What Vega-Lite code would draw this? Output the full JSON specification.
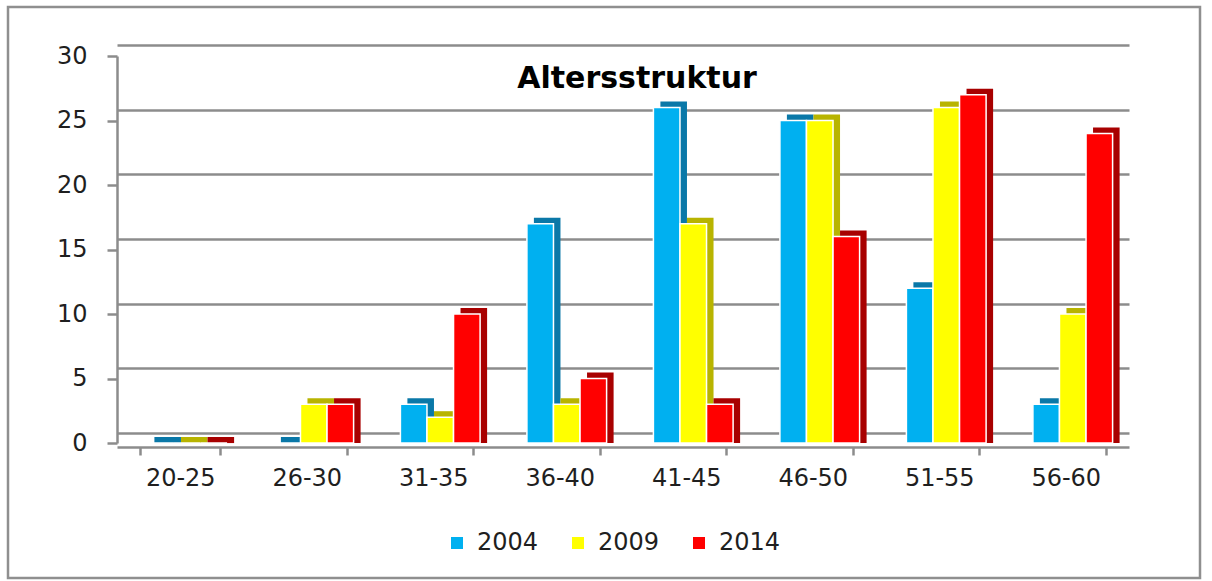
{
  "$schema": "https://vega.github.io/schema/vega-lite/v6.json",
  "width": 1192,
  "height": 571,
  "autosize": {"type": "none"},
  "padding": {"left": 8, "top": 7, "right": 12, "bottom": 3},
  "background": "white",
  "config": {
    "view": {"stroke": "#8f8f8f", "strokeWidth": 2.5},
    "font": "DejaVu Sans"
  },
  "title": {
    "text": "Altersstruktur",
    "font": "DejaVu Sans",
    "fontSize": 30,
    "fontWeight": "bold",
    "color": "#000000",
    "anchor": "middle",
    "orient": "bottom",
    "frame": "group",
    "baseline": "alphabetic",
    "offset": -490,
    "dx": 33
  },
  "data": {
    "values": [
      {"age": "20-25", "year": "2004", "value": 0},
      {"age": "20-25", "year": "2009", "value": 0},
      {"age": "20-25", "year": "2014", "value": 0},
      {"age": "26-30", "year": "2004", "value": 0},
      {"age": "26-30", "year": "2009", "value": 3},
      {"age": "26-30", "year": "2014", "value": 3},
      {"age": "31-35", "year": "2004", "value": 3},
      {"age": "31-35", "year": "2009", "value": 2},
      {"age": "31-35", "year": "2014", "value": 10},
      {"age": "36-40", "year": "2004", "value": 17},
      {"age": "36-40", "year": "2009", "value": 3},
      {"age": "36-40", "year": "2014", "value": 5},
      {"age": "41-45", "year": "2004", "value": 26},
      {"age": "41-45", "year": "2009", "value": 17},
      {"age": "41-45", "year": "2014", "value": 3},
      {"age": "46-50", "year": "2004", "value": 25},
      {"age": "46-50", "year": "2009", "value": 25},
      {"age": "46-50", "year": "2014", "value": 16},
      {"age": "51-55", "year": "2004", "value": 12},
      {"age": "51-55", "year": "2009", "value": 26},
      {"age": "51-55", "year": "2014", "value": 27},
      {"age": "56-60", "year": "2004", "value": 3},
      {"age": "56-60", "year": "2009", "value": 10},
      {"age": "56-60", "year": "2014", "value": 24}
    ]
  },
  "layer": [
    {
      "mark": {"type": "bar", "opacity": 0},
      "encoding": {
        "x": {
          "field": "age",
          "type": "nominal",
          "sort": null,
          "scale": {"range": [109, 1121], "paddingInner": 0.37, "paddingOuter": 0.185},
          "axis": {
            "orient": "bottom",
            "offset": -131,
            "title": null,
            "labelAngle": 0,
            "labelFont": "DejaVu Sans",
            "labelFontSize": 24,
            "labelColor": "#1f1f1f",
            "labelPadding": 11,
            "domainColor": "#8c8c8c",
            "domainWidth": 2.5,
            "tickColor": "#8c8c8c",
            "tickWidth": 2.5,
            "tickSize": 8,
            "tickBand": "extent",
            "grid": false
          }
        },
        "y": {
          "field": "value",
          "type": "quantitative",
          "scale": {"domain": [0, 30], "range": [426, 38], "nice": false},
          "axis": {
            "orient": "left",
            "offset": -109,
            "title": null,
            "grid": true,
            "gridColor": "#8c8c8c",
            "gridWidth": 2.5,
            "domain": false,
            "ticks": false,
            "labels": false,
            "values": [0, 5, 10, 15, 20, 25, 30]
          }
        }
      }
    },
    {
      "mark": {"type": "bar"},
      "encoding": {
        "x": {"field": "age", "type": "nominal", "sort": null},
        "xOffset": {
          "field": "year",
          "type": "nominal",
          "scale": {"range": [14, 93.7], "paddingInner": 0, "paddingOuter": 0}
        },
        "y": {
          "field": "value",
          "type": "quantitative",
          "scale": {"domain": [0, 30], "range": [430, 43], "nice": false, "zero": false},
          "axis": null
        },
        "y2": {"datum": -0.47},
        "color": {
          "field": "year",
          "type": "nominal",
          "scale": {"domain": ["2004", "2009", "2014"], "range": ["#0a78a8", "#b8b400", "#a80000"]},
          "legend": null
        }
      }
    },
    {
      "mark": {"type": "bar", "stroke": "white", "strokeWidth": 1.5},
      "encoding": {
        "x": {"field": "age", "type": "nominal", "sort": null},
        "xOffset": {
          "field": "year",
          "type": "nominal",
          "scale": {"range": [7, 86.7], "paddingInner": 0, "paddingOuter": 0}
        },
        "y": {
          "field": "value",
          "type": "quantitative",
          "scale": {"domain": [0, 30], "range": [436, 49], "nice": false},
          "axis": {
            "orient": "left",
            "offset": -109,
            "title": null,
            "grid": false,
            "values": [0, 5, 10, 15, 20, 25, 30],
            "labelFont": "DejaVu Sans",
            "labelFontSize": 24,
            "labelColor": "#1f1f1f",
            "labelPadding": 20,
            "domainColor": "#8c8c8c",
            "domainWidth": 2.5,
            "tickColor": "#8c8c8c",
            "tickWidth": 2.5,
            "tickSize": 10
          }
        },
        "color": {
          "field": "year",
          "type": "nominal",
          "scale": {"domain": ["2004", "2009", "2014"], "range": ["#00b0f0", "#ffff00", "#ff0000"]},
          "legend": {
            "orient": "none",
            "legendX": 437,
            "legendY": 524,
            "direction": "horizontal",
            "title": null,
            "padding": 0,
            "symbolType": "square",
            "symbolSize": 144,
            "symbolStrokeWidth": 0,
            "labelFont": "DejaVu Sans",
            "labelFontSize": 24,
            "labelColor": "#1f1f1f",
            "labelOffset": 8,
            "columnPadding": 27
          }
        }
      }
    }
  ],
  "resolve": {
    "scale": {"y": "independent", "xOffset": "independent", "color": "independent"},
    "axis": {"y": "independent"}
  }
}
